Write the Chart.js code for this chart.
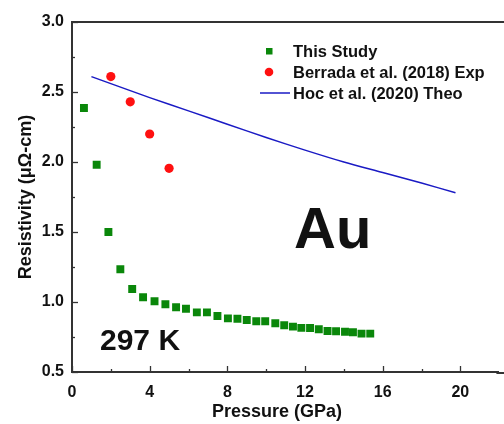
<!DOCTYPE html>
<html>
<head>
<meta charset="utf-8">
<script src="https://cdn.jsdelivr.net/npm/chart.js@4"></script>
<style>
  html, body { margin: 0; padding: 0; background: #fff; }
  #wrap { width: 504px; height: 424px; }
</style>
</head>
<body>
<div id="wrap"><canvas id="rhoChart" width="504" height="424"></canvas></div>
<script>
// values
const studyPressure = [0.615, 1.27, 1.875, 2.49, 3.10, 3.66, 4.25, 4.81, 5.36, 5.87, 6.43, 6.95, 7.49, 8.03, 8.52,
  9.0, 9.49, 9.95, 10.47, 10.93, 11.38, 11.81, 12.26, 12.71, 13.16, 13.60, 14.06, 14.47, 14.91, 15.36];
const studyResistivity = [2.386, 1.98, 1.50, 1.234, 1.093, 1.034, 1.005, 0.984, 0.962, 0.952, 0.926, 0.926, 0.90, 0.883, 0.88,
  0.871, 0.862, 0.862, 0.848, 0.834, 0.824, 0.815, 0.814, 0.805, 0.793, 0.791, 0.788, 0.784, 0.774, 0.774];
const berradaPressure = [2, 3, 4, 5];
const berradaResistivity = [2.61, 2.43, 2.20, 1.955];
const hocPressure = [1, 2, 4, 6, 8, 10, 12, 14, 16, 18, 19.75];
const hocResistivity = [2.61, 2.56, 2.46, 2.365, 2.27, 2.175, 2.085, 2.0, 1.925, 1.85, 1.78];
const seriesNames = ["This Study", "Berrada et al. (2018) Exp", "Hoc et al. (2020) Theo"];
const xTicks = [0, 4, 8, 12, 16, 20];
const yTicks = [0.5, 1.0, 1.5, 2.0, 2.5, 3.0];

const FONT = "'Liberation Sans', Arial, sans-serif";
const AXIS = "#333";

function pairs(xs, ys) {
  return xs.map((x, i) => ({ x, y: ys[i] }));
}

// frame top line, inward ticks, legend, x title and the annotations
const decor = {
  id: "decor",
  afterDraw(chart) {
    const { ctx, chartArea: a, scales } = chart;
    const xs = scales.x, ys = scales.y;
    ctx.save();
    ctx.strokeStyle = AXIS;
    ctx.lineWidth = 2;
    ctx.beginPath();
    ctx.moveTo(a.left - 1, a.top);
    ctx.lineTo(chart.width, a.top);
    ctx.moveTo(a.right - 2, a.bottom + 1);
    ctx.lineTo(chart.width, a.bottom + 1);
    ctx.stroke();

    ctx.lineWidth = 1.3;
    for (let v = 0; v <= xs.max; v += 2) {
      const px = Math.round(xs.getPixelForValue(v)) + 0.5;
      const len = v % 4 === 0 ? 6 : 3;
      ctx.beginPath();
      ctx.moveTo(px, a.bottom);
      ctx.lineTo(px, a.bottom - len);
      ctx.stroke();
    }
    for (let v = 0.5; v <= 3.0001; v += 0.25) {
      const py = Math.round(ys.getPixelForValue(v)) + 0.5;
      const len = Math.abs(v * 2 - Math.round(v * 2)) < 1e-6 ? 6 : 3;
      ctx.beginPath();
      ctx.moveTo(a.left, py);
      ctx.lineTo(a.left + len, py);
      ctx.stroke();
    }

    // legend
    const ds = chart.data.datasets;
    const rows = [51, 72, 93];
    ctx.font = "bold 16.5px " + FONT;
    ctx.textBaseline = "middle";
    ds.forEach((d, i) => {
      const y = rows[i];
      if (d.showLine) {
        ctx.strokeStyle = d.borderColor;
        ctx.lineWidth = d.borderWidth;
        ctx.beginPath();
        ctx.moveTo(260, y);
        ctx.lineTo(290, y);
        ctx.stroke();
      } else if (d.pointStyle === "rect") {
        ctx.fillStyle = d.backgroundColor;
        ctx.fillRect(266, y - 3, 6.5, 6.5);
      } else {
        ctx.fillStyle = d.backgroundColor;
        ctx.beginPath();
        ctx.arc(269, y, 4.3, 0, Math.PI * 2);
        ctx.fill();
      }
      ctx.fillStyle = "#111";
      ctx.fillText(d.label, 293, y + 1);
    });

    // x axis title
    ctx.textAlign = "center";
    ctx.font = "bold 18px " + FONT;
    ctx.fillText("Pressure (GPa)", 277, 412);

    ctx.textAlign = "left";
    ctx.textBaseline = "alphabetic";
    ctx.font = "bold 58px " + FONT;
    ctx.fillText("Au", 294, 248);
    ctx.font = "bold 30px " + FONT;
    ctx.fillText("297 K", 100, 350);
    ctx.restore();
  }
};

new Chart(document.getElementById("rhoChart"), {
  type: "scatter",
  data: {
    datasets: [
      {
        label: seriesNames[0],
        data: pairs(studyPressure, studyResistivity),
        pointStyle: "rect",
        pointRadius: 5.6,
        backgroundColor: "#0a870a",
        borderColor: "#0a870a",
        borderWidth: 0,
        showLine: false,
      },
      {
        label: seriesNames[1],
        data: pairs(berradaPressure, berradaResistivity),
        pointStyle: "circle",
        pointRadius: 4.6,
        backgroundColor: "#ff1010",
        borderColor: "#ff1010",
        borderWidth: 0,
        showLine: false,
      },
      {
        label: seriesNames[2],
        data: pairs(hocPressure, hocResistivity),
        showLine: true,
        pointRadius: 0,
        borderColor: "#1a1ac4",
        borderWidth: 1.5,
        tension: 0.3,
      },
    ],
  },
  options: {
    responsive: false,
    animation: false,
    layout: { padding: { top: 22, right: 0, left: 0, bottom: 0 } },
    plugins: { legend: { display: false }, tooltip: { enabled: false } },
    scales: {
      x: {
        type: "linear",
        min: 0,
        max: 21.96,
        afterBuildTicks: (s) => { s.ticks = xTicks.map((v) => ({ value: v })); },
        afterFit: (s) => { s.height = 52; s.paddingRight = 0; s.paddingLeft = 0; },
        grid: { display: false, drawTicks: false },
        border: { display: true, color: AXIS, width: 2 },
        ticks: {
          padding: 11,
          color: "#111",
          font: { family: FONT, size: 16, weight: "bold" },
          maxRotation: 0,
        },
      },
      y: {
        min: 0.5,
        max: 3.0,
        afterBuildTicks: (s) => { s.ticks = yTicks.map((v) => ({ value: v })); },
        afterFit: (s) => { s.width = 72; },
        grid: { display: false, drawTicks: false },
        border: { display: true, color: AXIS, width: 2 },
        ticks: {
          padding: 8,
          color: "#111",
          font: { family: FONT, size: 16, weight: "bold" },
          callback: (v) => Number(v).toFixed(1),
        },
        title: {
          display: true,
          text: "Resistivity (\u03bc\u03a9-cm)",
          color: "#111",
          font: { family: FONT, size: 18, weight: "bold" },
          padding: { top: 15, bottom: 0 },
        },
      },
    },
  },
  plugins: [decor],
});
</script>
</body>
</html>
